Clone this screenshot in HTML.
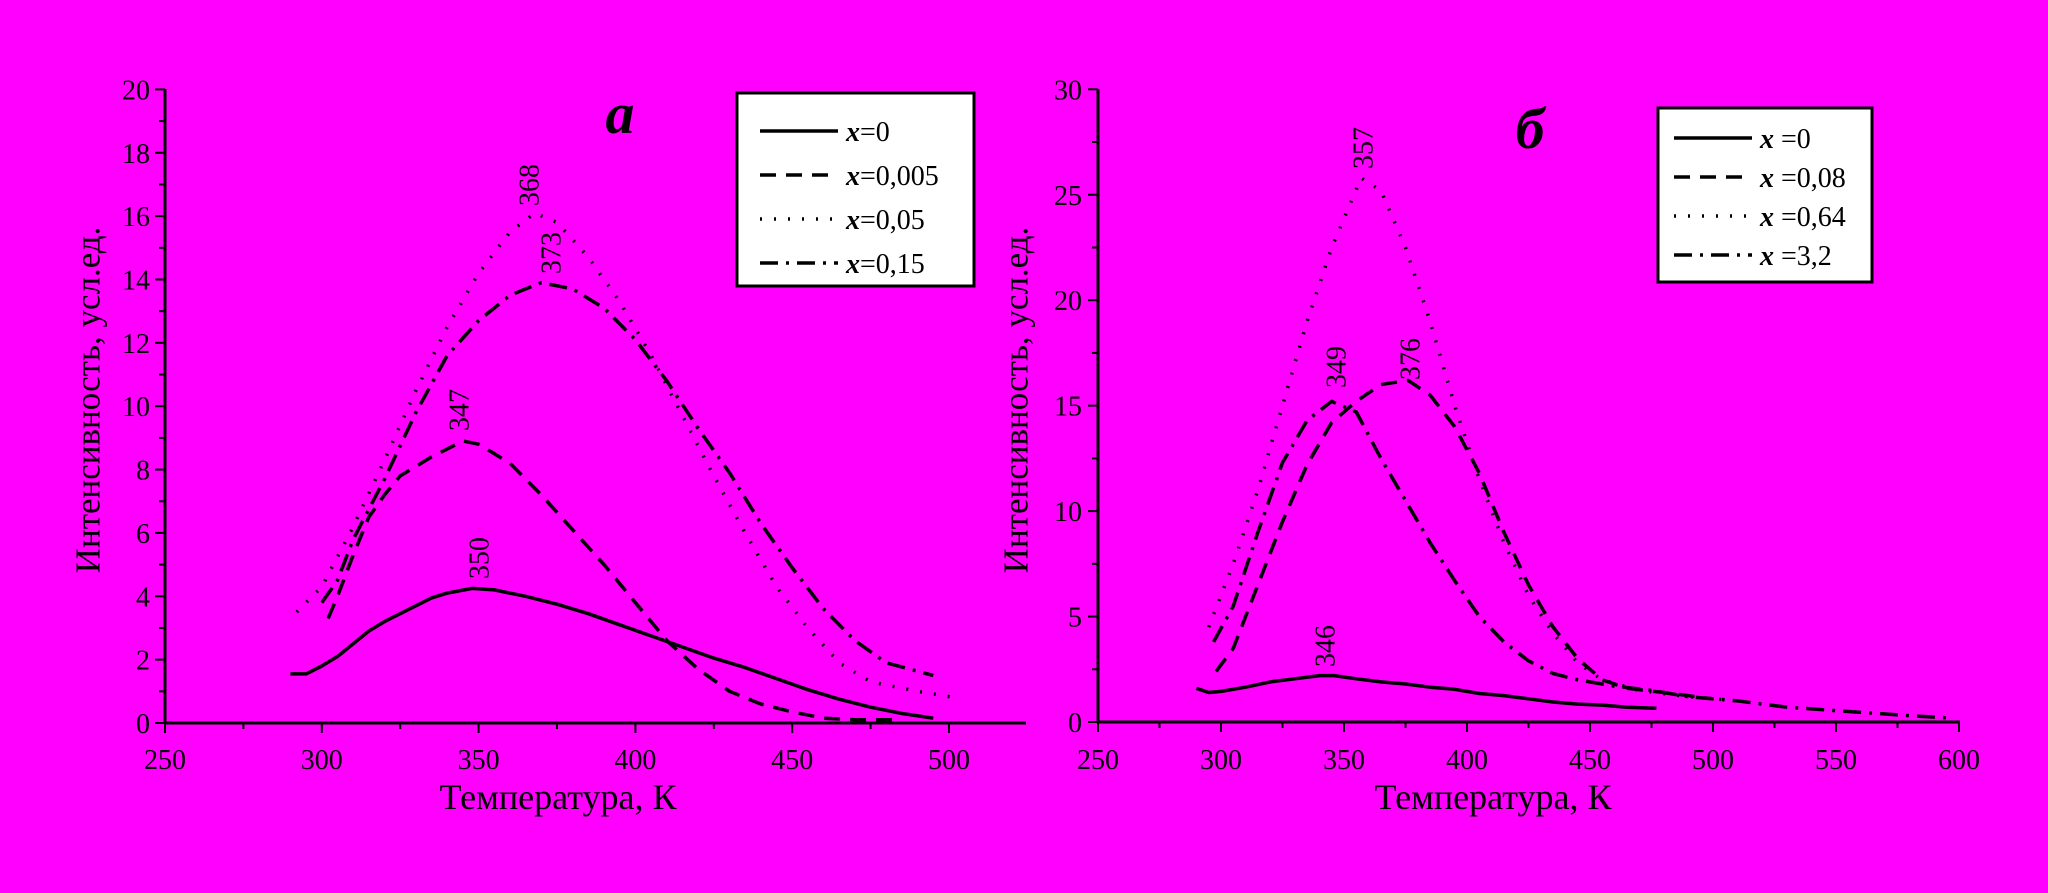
<!DOCTYPE html>
<html><head><meta charset="utf-8"><style>
html,body{margin:0;padding:0;background:#ff00ff;}
svg{display:block;}
text{font-family:"Liberation Serif","DejaVu Serif",serif;fill:#000;}
</style></head><body>
<svg id="s" width="2048" height="893" xmlns="http://www.w3.org/2000/svg">
<rect width="2048" height="893" fill="#ff00ff"/>
</svg>
<script>
const s=document.getElementById('s');
let h='';
function P(pts,fx,fy){return pts.map((p,i)=>(i?'L':'M')+fx(p[0]).toFixed(1)+' '+fy(p[1]).toFixed(1)).join(' ');}
const dash={solid:'',dashed:'16 10',dotted:'2 12',dashdot:'18 8 3 8'};
function curve(pts,fx,fy,st){h+=`<path d="${P(pts,fx,fy)}" fill="none" stroke="#000" stroke-width="3.5" ${dash[st]?`stroke-dasharray="${dash[st]}"`:''} stroke-linejoin="round"/>`;}
function txt(x,y,t,sz,extra){h+=`<text x="${x}" y="${y}" font-size="${sz}" ${extra||''}>${t}</text>`;}
function rot(x,y,t,sz){h+=`<text x="${x}" y="${y}" font-size="${sz}" text-anchor="middle" dominant-baseline="central" transform="rotate(-90 ${x} ${y})">${t}</text>`;}
// left chart
{
const fx=x=>165+(x-250)*3.136, fy=y=>723-y*31.68;
h+=`<line x1="165" y1="89" x2="165" y2="723" stroke="#000" stroke-width="3"/>`;
h+=`<line x1="165" y1="723" x2="1026" y2="723" stroke="#000" stroke-width="3"/>`;
for(let v=0;v<=20;v++){const y=fy(v);const m=v%2==0;h+=`<line x1="${165-(m?10:6)}" y1="${y}" x2="165" y2="${y}" stroke="#000" stroke-width="2"/>`;if(m)txt(150,y+10,v,28,'text-anchor="end"');}
for(let v=250;v<=520;v+=25){const x=fx(v);const m=v%50==0;h+=`<line x1="${x}" y1="723" x2="${x}" y2="${723+(m?10:6)}" stroke="#000" stroke-width="2"/>`;if(m)txt(x,769,v,28,'text-anchor="middle"');}
txt(558,809,'Температура, К',36,'text-anchor="middle"');
rot(88,400,'Интенсивность, усл.ед.',35);
txt(620,133,'a',58,'font-style="italic" font-weight="bold" text-anchor="middle"');
curve([[290,1.55],[295,1.55],[300,1.8],[305,2.1],[310,2.5],[315,2.9],[320,3.2],[330,3.7],[335,3.95],[340,4.1],[348,4.25],[355,4.2],[365,4.0],[375,3.75],[385,3.45],[395,3.1],[405,2.75],[415,2.4],[425,2.05],[435,1.75],[445,1.4],[455,1.05],[465,0.75],[475,0.5],[485,0.3],[495,0.15]],fx,fy,'solid');
curve([[302,3.3],[305,4],[310,5.3],[315,6.5],[320,7.2],[325,7.8],[335,8.4],[345,8.9],[350,8.8],[360,8.2],[370,7.2],[380,6.1],[390,5],[400,3.8],[410,2.6],[420,1.7],[430,1.0],[440,0.6],[450,0.35],[460,0.15],[470,0.1],[485,0.1]],fx,fy,'dashed');
curve([[292,3.5],[300,4.3],[310,6.2],[320,8.3],[330,10.5],[340,12.5],[350,14.2],[360,15.5],[368,16.1],[375,15.8],[385,14.7],[395,13.3],[405,11.6],[415,9.7],[425,7.8],[435,6.0],[445,4.3],[455,3.0],[465,1.9],[475,1.3],[490,1.0],[502,0.8]],fx,fy,'dotted');
curve([[300,3.8],[305,4.5],[310,5.8],[320,7.7],[330,9.8],[340,11.6],[350,12.7],[360,13.5],[370,13.9],[380,13.7],[390,13.1],[400,12.1],[410,10.8],[420,9.3],[430,7.9],[440,6.3],[450,4.9],[460,3.6],[470,2.6],[480,1.9],[495,1.5]],fx,fy,'dashdot');
rot(480,558,'350',28);rot(460,410,'347',28);rot(530,185,'368',28);rot(552,253,'373',28);
h+=`<rect x="737" y="93" width="237" height="193" fill="#fff" stroke="#000" stroke-width="3"/>`;
const L=[['solid','0'],['dashed','0,005'],['dotted','0,05'],['dashdot','0,15']];
L.forEach((l,i)=>{const y=131+i*44;h+=`<line x1="760" y1="${y}" x2="838" y2="${y}" stroke="#000" stroke-width="3.5" ${dash[l[0]]?`stroke-dasharray="${dash[l[0]]}"`:''}/>`;txt(846,y+10,`<tspan font-style="italic" font-weight="bold">x</tspan>=${l[1]}`,28);});
}
// right chart
{
const fx=x=>1098+(x-250)*2.46, fy=y=>722-y*21.09;
h+=`<line x1="1098" y1="89" x2="1098" y2="722" stroke="#000" stroke-width="3"/>`;
h+=`<line x1="1098" y1="722" x2="1960" y2="722" stroke="#000" stroke-width="3"/>`;
for(let v=0;v<=30;v+=2.5){const y=fy(v);const m=v%5==0;h+=`<line x1="${1098-(m?10:6)}" y1="${y}" x2="1098" y2="${y}" stroke="#000" stroke-width="2"/>`;if(m)txt(1082,y+10,v,28,'text-anchor="end"');}
for(let v=250;v<=600;v+=25){const x=fx(v);const m=v%50==0;h+=`<line x1="${x}" y1="722" x2="${x}" y2="${722+(m?10:6)}" stroke="#000" stroke-width="2"/>`;if(m)txt(x,769,v,28,'text-anchor="middle"');}
txt(1493,809,'Температура, К',36,'text-anchor="middle"');
rot(1016,400,'Интенсивность, усл.ед.',35);
txt(1530,148,'б',58,'font-style="italic" font-weight="bold" text-anchor="middle"');
curve([[290,1.6],[295,1.4],[300,1.45],[310,1.65],[320,1.9],[330,2.05],[340,2.2],[346,2.2],[355,2.05],[365,1.9],[375,1.8],[385,1.65],[395,1.55],[405,1.35],[415,1.25],[425,1.1],[435,0.95],[445,0.85],[455,0.8],[465,0.7],[477,0.65]],fx,fy,'solid');
curve([[298,2.4],[305,3.5],[315,6.5],[325,9.5],[335,12.2],[345,14.2],[355,15.2],[365,16],[376,16.2],[385,15.5],[395,14],[405,11.8],[415,9],[425,6.5],[435,4.5],[445,3.0],[455,2.0],[465,1.6],[480,1.4],[500,1.1]],fx,fy,'dashed');
curve([[295,4.5],[305,7.5],[315,11],[325,15],[335,19],[345,22.5],[357,25.8],[365,25.2],[375,22.5],[385,19],[395,15],[405,11.5],[415,8.5],[425,6],[435,4.2],[445,2.8],[455,2],[470,1.5],[490,1.2],[510,1.0]],fx,fy,'dotted');
curve([[297,3.8],[305,5.5],[315,9],[325,12.3],[335,14.3],[345,15.2],[355,14.7],[365,12.5],[375,10.5],[385,8.5],[395,6.7],[405,5],[415,3.8],[425,2.9],[435,2.3],[445,2.0],[460,1.7],[475,1.5],[490,1.2],[510,1.0],[530,0.7],[555,0.5],[580,0.3],[595,0.2]],fx,fy,'dashdot');
rot(1364,148,'357',28);rot(1337,367,'349',28);rot(1411,359,'376',28);rot(1326,646,'346',28);
h+=`<rect x="1658" y="108" width="214" height="174" fill="#fff" stroke="#000" stroke-width="3"/>`;
const L=[['solid','0'],['dashed','0,08'],['dotted','0,64'],['dashdot','3,2']];
L.forEach((l,i)=>{const y=138+i*39;h+=`<line x1="1674" y1="${y}" x2="1752" y2="${y}" stroke="#000" stroke-width="3.5" ${dash[l[0]]?`stroke-dasharray="${dash[l[0]]}"`:''}/>`;txt(1760,y+10,`<tspan font-style="italic" font-weight="bold">x</tspan> =${l[1]}`,28);});
}
s.insertAdjacentHTML('beforeend',h);
</script>
</body></html>
